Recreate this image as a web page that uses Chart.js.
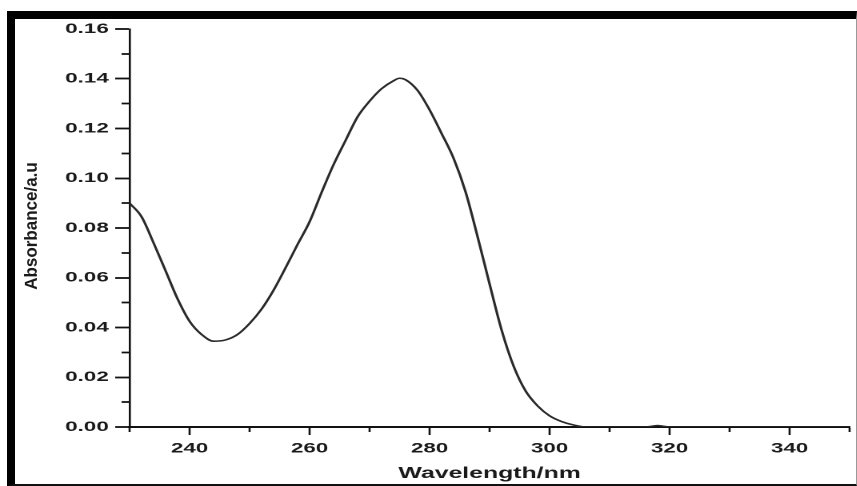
<!DOCTYPE html>
<html lang="en">
<head>
<meta charset="UTF-8">
<meta name="viewport" content="width=device-width, initial-scale=1.0">
<title>Absorbance spectrum</title>
<script src="https://cdn.jsdelivr.net/npm/chart.js@4.4.0/dist/chart.umd.min.js"></script>
<style>
    body {
        margin: 0;
        background: #fff;
    }
    /* the source figure is stretched sideways, so the whole chart is too */
    #wrap {
        position: absolute;
        left: 0;
        top: 0;
        width: 536px;
        height: 486px;
        transform: scaleX(1.6);
        transform-origin: 0 0;
    }
    #frame {
        position: absolute;
        left: 7px;
        top: 11px;
        width: 850px;
        height: 475px;
        box-sizing: border-box;
        border-top: 8px solid #000;
        border-left: 8px solid #000;
        border-bottom: 2px solid #111;
        border-right: 1px solid #999;
        pointer-events: none;
    }
</style>
</head>
<body>
<div id="wrap"><canvas id="spectrum"></canvas></div>
<div id="frame"></div>
<script>
    const STRETCH = 1.6;

    const wavelength = [230, 232, 234, 236, 238, 240, 242, 244, 246, 248, 250, 252, 254, 256, 258, 260,
        262, 264, 266, 268, 270, 272, 274, 275, 276, 278, 280, 282, 284, 286, 288, 290, 292, 294, 296,
        298, 300, 302, 304, 306, 310, 316, 318, 320, 330, 340, 350];
    const absorbance = [0.090, 0.0845, 0.074, 0.0628, 0.0515, 0.0425, 0.0372, 0.0345, 0.035, 0.0372, 0.0416,
        0.0474, 0.055, 0.064, 0.0734, 0.0825, 0.0943, 0.1055, 0.1152, 0.1247, 0.131, 0.136, 0.1392, 0.1402,
        0.1396, 0.1353, 0.1275, 0.118, 0.108, 0.0945, 0.0765, 0.0575, 0.039, 0.0245, 0.0145, 0.0085,
        0.0045, 0.0022, 0.0008, 0, 0, 0, 0.0006, 0, 0, 0, 0];

    const xLabelStep = 20;
    const yLabelStep = 0.02;

    const font = '"Liberation Sans", Arial, sans-serif';

    // y title drawn by hand so the sideways stretch does not fatten it
    const yTitle = {
        id: 'yTitle',
        afterDraw(chart) {
            const ctx = chart.ctx;
            const area = chart.chartArea;
            ctx.save();
            ctx.translate(chart.scales.y.left + 10, (area.top + area.bottom) / 2 - 2);
            ctx.scale(1 / STRETCH, 1);
            ctx.rotate(-Math.PI / 2);
            ctx.font = 'bold 17px ' + font;
            ctx.fillStyle = '#1a1a1a';
            ctx.textAlign = 'center';
            ctx.textBaseline = 'middle';
            ctx.fillText('Absorbance/a.u', 0, 0);
            ctx.restore();
        }
    };

    function isXMajor(v) {
        return Math.round(v) % xLabelStep === 0;
    }
    function isYMajor(v) {
        return Math.round(v * 100) % Math.round(yLabelStep * 100) === 0;
    }

    new Chart(document.getElementById('spectrum'), {
        type: 'line',
        data: {
            datasets: [{
                data: wavelength.map((w, i) => ({ x: w, y: absorbance[i] })),
                borderColor: '#2a2a2a',
                borderWidth: 1.6,
                pointRadius: 0,
                cubicInterpolationMode: 'monotone',
                fill: false
            }]
        },
        plugins: [yTitle],
        options: {
            responsive: true,
            maintainAspectRatio: false,
            devicePixelRatio: 2,
            animation: false,
            layout: { padding: { left: 10, top: 29, right: 0, bottom: 3 } },
            plugins: {
                legend: { display: false },
                tooltip: { enabled: false }
            },
            scales: {
                x: {
                    type: 'linear',
                    min: 230,
                    max: 350,
                    afterFit: s => { s.height = 56; },
                    border: { color: '#111', width: 2 },
                    grid: {
                        drawOnChartArea: false,
                        tickLength: 8,
                        tickColor: '#111',
                        tickWidth: 1.3,
                        tickBorderDash: c => isXMajor(c.tick.value) ? [] : [4, 100]
                    },
                    ticks: {
                        stepSize: 10,
                        autoSkip: false,
                        maxRotation: 0,
                        padding: 5,
                        color: '#1a1a1a',
                        font: { family: font, size: 14, weight: 'bold' },
                        callback: v => isXMajor(v) ? String(v) : ''
                    },
                    title: {
                        display: true,
                        text: 'Wavelength/nm',
                        color: '#1a1a1a',
                        padding: { top: 0, bottom: 0 },
                        font: { family: font, size: 15.5, weight: 'bold' }
                    }
                },
                y: {
                    min: 0,
                    max: 0.16,
                    afterFit: s => { s.width = 71; },
                    border: { color: '#111', width: 1.3 },
                    grid: {
                        drawOnChartArea: false,
                        tickLength: 9,
                        tickColor: '#111',
                        tickWidth: 1.8,
                        tickBorderDash: c => isYMajor(c.tick.value) ? [] : [0, 4, 6, 100]
                    },
                    ticks: {
                        stepSize: 0.01,
                        autoSkip: false,
                        padding: 4,
                        color: '#1a1a1a',
                        font: { family: font, size: 14, weight: 'bold' },
                        callback: v => isYMajor(v) ? v.toFixed(2) : ''
                    }
                }
            }
        }
    });
</script>
</body>
</html>
